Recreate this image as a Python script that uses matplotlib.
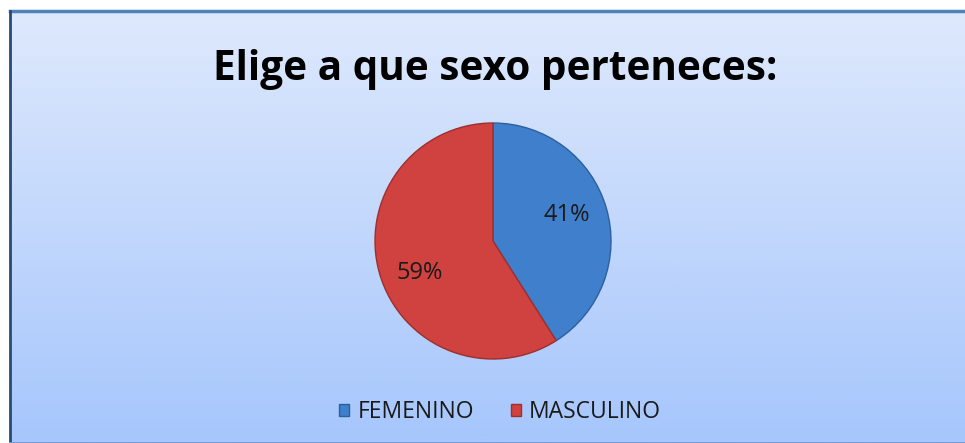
import matplotlib
matplotlib.use("Agg")
import matplotlib.pyplot as plt
import numpy as np
from matplotlib.patches import Rectangle

categories = ["FEMENINO", "MASCULINO"]
values = [41, 59]
labels_pct = ["41%", "59%"]
colors = ["#3f7fcc", "#d0423f"]
edges = ["#2d5f9e", "#9e2f2c"]
title = "Elige a que sexo perteneces:"

W, H = 965, 443
fig = plt.figure(figsize=(W / 100, H / 100), dpi=100)
fig.patch.set_facecolor("white")

# background gradient panel
bx0, by0 = 10, 11
bg = fig.add_axes([bx0 / W, 0, 1 - bx0 / W, 1 - by0 / H])
top = np.array([222, 233, 252]) / 255
bot = np.array([166, 198, 252]) / 255
t = np.linspace(0, 1, 256)[:, None]
grad = top[None, :] * (1 - t) + bot[None, :] * t
bg.imshow(grad[:, None, :], aspect="auto", extent=[0, 1, 0, 1])
bg.set_xlim(0, 1)
bg.set_ylim(0, 1)
bg.axis("off")
bg.plot([0, 1], [1, 1], color="#4f81bd", lw=2.5, transform=bg.transAxes, clip_on=False)
bg.plot([0, 0], [0, 1], color="#2a4a70", lw=2.0, transform=bg.transAxes, clip_on=False)
bg.plot([0, 1], [0, 0], color="#6f9ad6", lw=2.0, transform=bg.transAxes, clip_on=False)

# title
fig.text(495 / W, 1 - 70 / H, title, ha="center", va="center",
         fontsize=29.2, fontweight="bold", family="Open Sans", color="black")

# pie
cx, cy, r = 493, 241, 118
ax = fig.add_axes([(cx - r) / W, 1 - (cy + r) / H, 2 * r / W, 2 * r / H])
wedges, _ = ax.pie(values, colors=colors, startangle=90, counterclock=False,
                   radius=1.0, wedgeprops=dict(linewidth=1.0))
for w, e in zip(wedges, edges):
    w.set_edgecolor(e)
ax.set_xlim(-1, 1)
ax.set_ylim(-1, 1)
ax.set_aspect("equal")
ax.axis("off")

# percentage labels (positioned via wedge geometry)
label_r = [0.65, 0.68]
label_off = [(0, 3), (3, -7)]  # offsets in points
for w, lab, lr, off in zip(wedges, labels_pct, label_r, label_off):
    ang = np.deg2rad((w.theta1 + w.theta2) / 2)
    ax.annotate(lab, (lr * np.cos(ang), lr * np.sin(ang)), xytext=off,
                textcoords="offset points", ha="center", va="center",
                fontsize=17, family="Open Sans", color="#1a1a1a")

# legend
handles = [Rectangle((0, 0), 1, 1, facecolor=c, edgecolor=e) for c, e in zip(colors, edges)]
leg = fig.legend(handles, categories, loc="center", bbox_to_anchor=(500 / W, 1 - 412 / H),
                 ncol=2, frameon=False, handlelength=0.45, handleheight=0.45,
                 handletextpad=0.35, columnspacing=1.6,
                 prop=dict(family="Open Sans", size=16.5))
for txt in leg.get_texts():
    txt.set_color("#1a1a1a")

fig.savefig("out.png", dpi=100)
